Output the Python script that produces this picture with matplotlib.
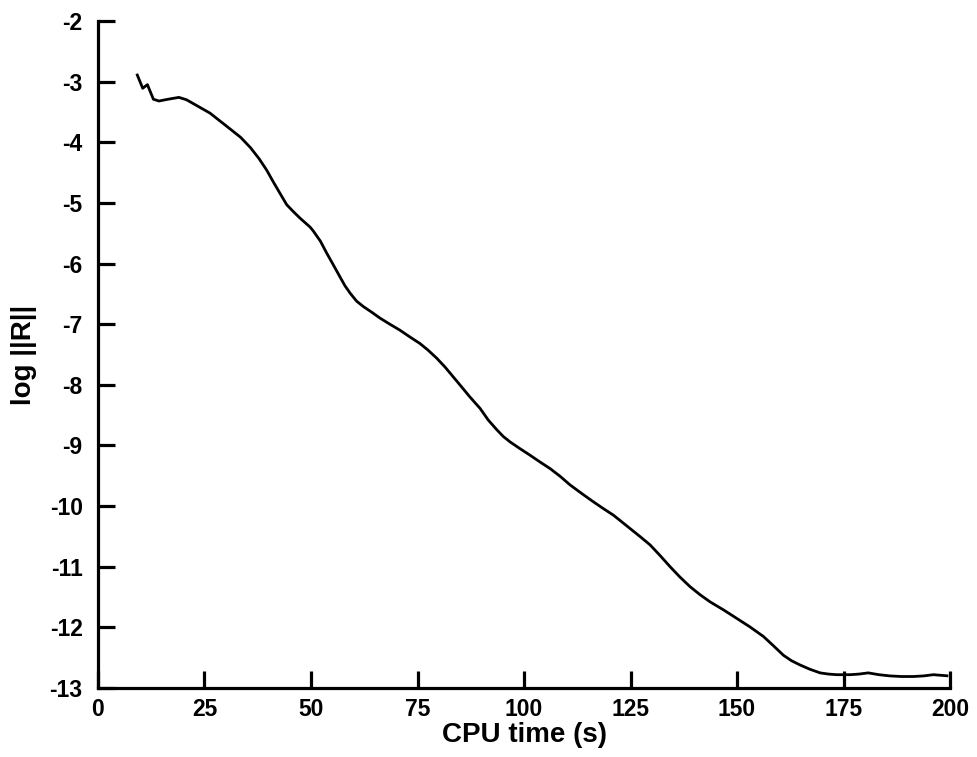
import matplotlib
matplotlib.use("Agg")
import matplotlib.pyplot as plt

# Convergence history: residual norm versus CPU time
cpu_time = [9.1, 10.5, 11.6, 13.0, 14.3, 16.5, 19.0, 20.8, 26.3, 31.0, 33.5,
            35.8, 37.8, 39.6, 41.2, 42.7, 44.3, 45.8, 47.4, 49.8, 50.5, 52.2,
            53.7, 55.3, 56.8, 58.0, 59.2, 60.7, 62.3, 64.2, 66.2, 68.5, 70.9,
            73.2, 75.6, 77.5, 79.5, 81.5, 83.4, 85.3, 87.3, 89.7, 91.6, 93.6,
            95.1, 96.7, 99.0, 101.4, 103.7, 106.1, 108.5, 110.8, 113.5, 116.3,
            118.6, 121.0, 124.9, 127.2, 129.6, 132.0, 134.3, 136.6, 139.0,
            141.3, 143.7, 146.8, 149.9, 153.0, 156.2, 158.5, 160.9, 162.8,
            164.8, 167.1, 169.5, 171.5, 173.4, 176.5, 178.6, 180.8, 183.3,
            185.9, 188.6, 191.4, 193.8, 196.1, 199.6]
log_residual = [-2.87, -3.11, -3.05, -3.29, -3.32, -3.29, -3.26, -3.30, -3.52,
                -3.78, -3.92, -4.09, -4.27, -4.46, -4.66, -4.84, -5.03, -5.14,
                -5.25, -5.40, -5.46, -5.63, -5.83, -6.03, -6.22, -6.37, -6.49,
                -6.62, -6.71, -6.80, -6.90, -7.00, -7.10, -7.21, -7.32, -7.43,
                -7.56, -7.71, -7.87, -8.03, -8.20, -8.39, -8.58, -8.74, -8.85,
                -8.94, -9.05, -9.16, -9.27, -9.38, -9.51, -9.65, -9.79, -9.93,
                -10.04, -10.15, -10.37, -10.50, -10.64, -10.82, -11.00, -11.17,
                -11.33, -11.46, -11.58, -11.71, -11.85, -11.99, -12.15, -12.30,
                -12.46, -12.55, -12.62, -12.69, -12.75, -12.77, -12.78, -12.78,
                -12.77, -12.75, -12.78, -12.80, -12.81, -12.81, -12.80, -12.78,
                -12.80]

x_ticks = [0, 25, 50, 75, 100, 125, 150, 175, 200]
y_ticks = [-2, -3, -4, -5, -6, -7, -8, -9, -10, -11, -12, -13]

plt.rcParams['font.family'] = ['Liberation Sans', 'DejaVu Sans']
plt.rcParams['font.weight'] = 'bold'

fig = plt.figure(figsize=(9.77, 7.57), dpi=100)
ax = fig.add_axes([0.1003, 0.0911, 0.8721, 0.8812])

ax.plot(cpu_time, log_residual, color='black', linewidth=2.0,
        solid_joinstyle='round', solid_capstyle='butt')

ax.set_xlim(0, 200)
ax.set_ylim(-13, -2)
ax.set_xticks(x_ticks)
ax.set_yticks(y_ticks)
ax.set_xticklabels([str(v) for v in x_ticks])
ax.set_yticklabels([str(v) for v in y_ticks])

for side in ('top', 'right'):
    ax.spines[side].set_visible(False)
for side in ('left', 'bottom'):
    ax.spines[side].set_linewidth(2.3)

ax.tick_params(axis='both', direction='in', length=12, width=2.3,
               labelsize=16.5)
ax.tick_params(axis='x', pad=7)
ax.tick_params(axis='y', pad=11)

ax.set_xlabel('CPU time (s)', fontsize=20, fontweight='bold', labelpad=1)
ax.set_ylabel('log ||R||', fontsize=20, fontweight='bold', labelpad=9)

fig.savefig('out.png', dpi=100, facecolor='white')
